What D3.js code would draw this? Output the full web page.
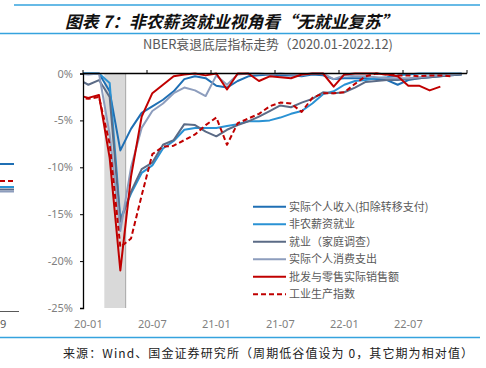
<!DOCTYPE html>
<html>
<head>
<meta charset="utf-8">
<script src="https://cdn.jsdelivr.net/npm/d3@7"></script>
<style>
  html, body { margin: 0; padding: 0; background: #fff; }
  svg { display: block; }
  text { font-family: "Noto Sans", "Noto Sans CJK SC", sans-serif; }
</style>
</head>
<body>
<svg id="chart" width="486" height="368"></svg>
<script>
// ---------------- DATA ----------------
const months = ["2019-12",
  "2020-01","2020-02","2020-03","2020-04","2020-05","2020-06","2020-07","2020-08","2020-09","2020-10","2020-11","2020-12",
  "2021-01","2021-02","2021-03","2021-04","2021-05","2021-06","2021-07","2021-08","2021-09","2021-10","2021-11","2021-12",
  "2022-01","2022-02","2022-03","2022-04","2022-05","2022-06","2022-07","2022-08","2022-09","2022-10","2022-11","2022-12"];

const seriesNames = ["实际个人收入(扣除转移支付)", "非农薪资就业", "就业（家庭调查）", "实际个人消费支出", "批发与零售实际销售额", "工业生产指数"];

const incomeExTransfers = [0, 0, 0, -1.9, -8.2, -5.9, -4.2, -3.5, -2.8, -1.9, -0.6, -0.3, -0.5,
  -1.3, -1.5, -0.8, -0.3, -0.2, -0.1, -0.2, -0.2, -0.3, -0.1, -0.2, -0.6,
  -0.5, -0.5, -0.5, -0.6, -0.7, -1.2, -0.7, -0.5, -0.4, -0.3, -0.2, -0.1];
const nonfarmPayrolls = [0, 0, 0, -1.0, -15.5, -12.8, -10.6, -9.8, -8.0, -7.2, -6.0, -5.8, -5.8,
  -5.8, -5.6, -5.4, -5.1, -5.1, -5.0, -4.7, -4.3, -4.0, -3.2, -2.2, -1.9,
  -1.2, -0.8, -0.7, -0.5, -0.4, -0.2, -0.1, 0, 0, 0, 0, 0];
const householdEmployment = [-0.6, -1.2, -0.7, -2.5, -15.8, -12.6, -10.2, -9.5, -7.6, -7.1, -5.4, -5.5, -6.2,
  -6.7, -6.0, -5.5, -5.1, -4.6, -4.0, -3.4, -3.6, -3.1, -2.7, -2.0, -2.1,
  -2.0, -1.5, -0.9, -0.8, -0.7, -0.7, -0.6, -0.5, -0.4, -0.3, -0.2, -0.1];
const realPCE = [0, -0.1, 0, -6.5, -16.8, -10.0, -5.8, -4.0, -3.2, -2.1, -1.5, -1.8, -2.4,
  -0.2, -1.2, -0.1, 0, 0, -0.1, 0, -0.1, -0.2, 0, 0, -0.6,
  -0.2, -0.3, -0.3, -0.4, -0.5, -0.5, -0.5, -0.4, -0.3, -0.2, -0.1, 0];
const realTradeSales = [-2.3, -2.6, -2.3, -9.0, -21.0, -11.0, -4.6, -2.1, -1.2, -0.3, -0.1, 0, -0.2,
  0, -1.7, 0, 0, -0.8, -0.3, -0.4, -0.5, -0.1, 0, 0, -1.4,
  -0.1, 0, 0, 0, -0.1, -0.3, -1.3, -1.3, -1.8, -1.4, null, null];
const industrialProduction = [-2.6, -2.7, -2.5, -7.5, -18.5, -17.6, -13.0, -8.6, -7.8, -7.7, -7.1, -6.5, -5.5,
  -4.7, -7.6, -5.3, -4.8, -4.3, -3.5, -3.1, -3.2, -4.1, -2.6, -2.1, -2.1,
  -2.0, -1.1, -0.3, 0, -0.1, -0.2, -0.2, -0.3, -0.2, -0.2, -0.3, null];

const recessionMonths = ["2020-03", "2020-04"];
const xTickMonths = ["2020-01","2020-07","2021-01","2021-07","2022-01","2022-07"];
const xTickLabels = ["20-01","20-07","21-01","21-07","22-01","22-07"];
const yTicks = [0, -5, -10, -15, -20, -25];

// ---------------- STYLE ----------------
const colors = ["#1f6fb4", "#2a92d4", "#5b6b86", "#8d9dbd", "#c00000", "#c00000"];
const dashes = [null, null, null, null, null, "5,3"];
const allSeries = [incomeExTransfers, nonfarmPayrolls, householdEmployment, realPCE, realTradeSales, industrialProduction];

const svg = d3.select("#chart");
const plot = { left: 83, right: 467, top: 73.5, bottom: 308 };
const nShown = months.length - 1;
const bw = (plot.right - plot.left) / nShown;

const x = d3.scaleBand().domain(months).range([plot.left - bw, plot.right]).padding(0);
const y = d3.scaleLinear().domain([-25, 0]).range([plot.bottom, plot.top]);
const cx = m => x(m) + x.bandwidth() / 2;

// fit a text element to a target width by scaling its font size
function fitWidth(sel, target) {
  const node = sel.node();
  const w = node.getComputedTextLength();
  if (w > 0) {
    const fs = parseFloat(sel.attr("font-size"));
    sel.attr("font-size", (fs * target / w).toFixed(2));
  }
}

// ---------------- HEADER ----------------
const blue = "#35a3de";
svg.append("line").attr("x1", 14).attr("x2", 480).attr("y1", 5).attr("y2", 5)
  .attr("stroke", blue).attr("stroke-width", 1.5);
svg.append("line").attr("x1", 0).attr("x2", 480).attr("y1", 33.5).attr("y2", 33.5)
  .attr("stroke", blue).attr("stroke-width", 1.5);
const head = svg.append("text").attr("x", 65).attr("y", 27.5)
  .attr("font-size", 17).attr("font-weight", "bold").attr("font-style", "italic")
  .attr("fill", "#111")
  .style("font-family", "'Noto Sans CJK SC', sans-serif")
  .text("图表 7：非农薪资就业视角看“无就业复苏”");
fitWidth(head, 333);

// chart title
const sub = svg.append("text").attr("x", 143).attr("y", 49)
  .attr("font-size", 13).attr("fill", "#595959")
  .style("font-family", "'Noto Sans CJK SC', sans-serif")
  .text("NBER衰退底层指标走势（2020.01-2022.12)");
fitWidth(sub, 250);

// ---------------- FOOTER ----------------
svg.append("line").attr("x1", 0).attr("x2", 480).attr("y1", 337.5).attr("y2", 337.5)
  .attr("stroke", blue).attr("stroke-width", 1.5);
svg.append("text").attr("x", 63).attr("y", 358)
  .attr("font-size", 12).attr("fill", "#222")
  .attr("textLength", 410).attr("lengthAdjust", "spacing")
  .style("font-family", "'Noto Sans CJK SC', sans-serif")
  .text("来源：Wind、国金证券研究所（周期低谷值设为 0，其它期为相对值）");

// ---------------- LEFT FRAGMENT (neighbouring chart, cropped) ----------------
const frag = svg.append("g");
const fragRows = [
  { y: 164, c: colors[0], d: null },
  { y: 181, c: colors[4], d: "5,3" },
  { y: 187, c: colors[1], d: null },
  { y: 189.5, c: colors[2], d: null },
  { y: 191.5, c: colors[3], d: null }
];
frag.selectAll("line.f").data(fragRows).join("line")
  .attr("x1", 0).attr("x2", 14).attr("y1", d => d.y).attr("y2", d => d.y)
  .attr("stroke", d => d.c).attr("stroke-width", 2).attr("stroke-dasharray", d => d.d);
frag.append("line").attr("x1", 0).attr("x2", 19).attr("y1", 311.5).attr("y2", 311.5)
  .attr("stroke", "#595959").attr("stroke-width", 1);
frag.append("text").attr("x", 0).attr("y", 327.5).attr("font-size", 11).attr("fill", "#595959").text("9");

// ---------------- PLOT ----------------
svg.append("defs").append("clipPath").attr("id", "clip")
  .append("rect").attr("x", plot.left).attr("y", 60).attr("width", plot.right - plot.left + 1).attr("height", 260);

// recession band
svg.append("g").selectAll("rect").data(recessionMonths).join("rect")
  .attr("x", d => x(d)).attr("width", x.bandwidth())
  .attr("y", y(0)).attr("height", y(-25) - y(0))
  .attr("fill", "#d9d9d9");
svg.append("line")
  .attr("x1", x(recessionMonths[1]) + x.bandwidth()).attr("x2", x(recessionMonths[1]) + x.bandwidth())
  .attr("y1", y(0)).attr("y2", y(-25)).attr("stroke", "#a6a6a6").attr("stroke-width", 1);

// lines
const lineGen = d3.line()
  .defined(d => d.v !== null)
  .x(d => cx(d.m)).y(d => y(d.v));
const lg = svg.append("g").attr("clip-path", "url(#clip)");
allSeries.forEach((vals, i) => {
  const pts = months.map((m, j) => ({ m, v: vals[j] }));
  lg.append("path").datum(pts)
    .attr("d", lineGen)
    .attr("fill", "none")
    .attr("stroke", colors[i])
    .attr("stroke-width", 2)
    .attr("stroke-linejoin", "round")
    .attr("stroke-dasharray", dashes[i]);
});

// y axis
const yAxis = svg.append("g").attr("transform", `translate(${plot.left},0)`)
  .call(d3.axisLeft(y).tickValues(yTicks).tickFormat(d => d + "%").tickSize(3).tickPadding(7));
yAxis.select(".domain").attr("stroke", "#000").attr("stroke-width", 1.3);
yAxis.selectAll(".tick line").attr("stroke", "#000");
yAxis.selectAll(".tick text").attr("fill", "#7f7f7f").attr("font-size", 11)
  .style("font-family", "'Noto Sans', sans-serif");

// top axis line at 0 with ticks
const ax = svg.append("g");
ax.append("line").attr("x1", plot.left).attr("x2", plot.right).attr("y1", y(0)).attr("y2", y(0))
  .attr("stroke", "#000").attr("stroke-width", 1.3);
const tickXs = xTickMonths.map(m => x(m)).concat([x.range()[1]]);
ax.selectAll("line.t").data(tickXs).join("line")
  .attr("x1", d => d).attr("x2", d => d).attr("y1", y(0)).attr("y2", y(0) - 3.5)
  .attr("stroke", "#000").attr("stroke-width", 1);
ax.selectAll("text").data(xTickMonths).join("text")
  .attr("x", d => cx(d)).attr("y", 327.5).attr("text-anchor", "middle")
  .attr("font-size", 11).attr("fill", "#7f7f7f")
  .text((d, i) => xTickLabels[i]);

// legend
const leg = svg.append("g");
seriesNames.forEach((name, i) => {
  const ly = 206.7 + i * 17.5;
  leg.append("line").attr("x1", 253).attr("x2", 286).attr("y1", ly).attr("y2", ly)
    .attr("stroke", colors[i]).attr("stroke-width", 2).attr("stroke-dasharray", dashes[i]);
  leg.append("text").attr("x", 289).attr("y", ly).attr("dy", "0.36em")
    .attr("font-size", 11).attr("fill", "#595959")
    .style("font-family", "'Noto Sans CJK SC', sans-serif")
    .text(name);
});
</script>
</body>
</html>
